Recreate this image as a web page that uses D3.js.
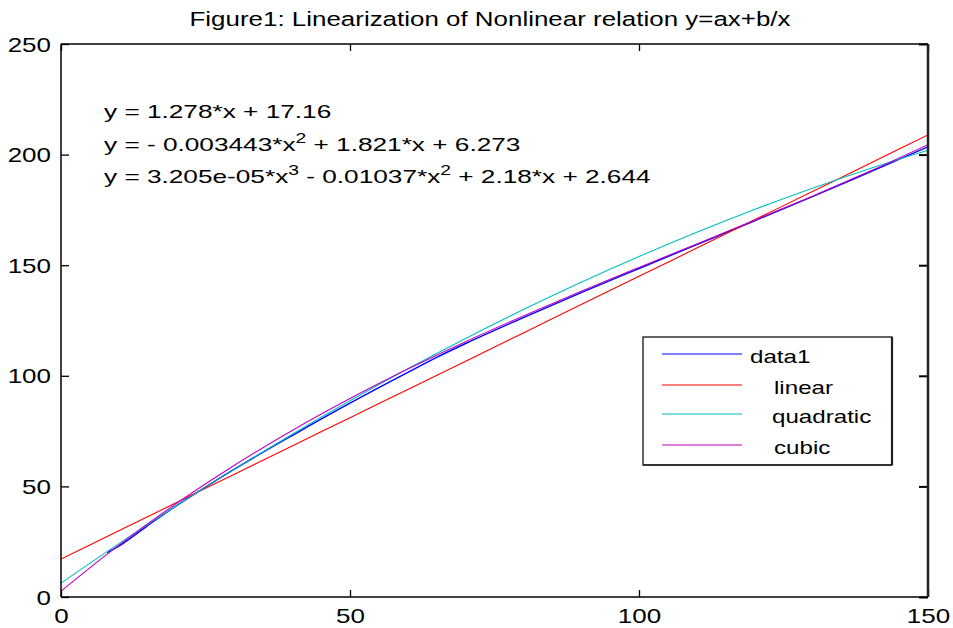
<!DOCTYPE html>
<html><head><meta charset="utf-8">
<script src="https://cdn.jsdelivr.net/npm/d3@7"></script>
<style>html,body{margin:0;padding:0;background:#fff;}svg{display:block;}</style>
</head><body>
<svg id="chart" width="953" height="628"></svg>
<script>
// ---- data ----
const titleText = "Figure1: Linearization of Nonlinear relation y=ax+b/x";
const xTicks = [0, 50, 100, 150];
const yTicks = [0, 50, 100, 150, 200, 250];
const seriesNames = ["data1", "linear", "quadratic", "cubic"];
const seriesColors = ["#0000ff", "#ff0000", "#00bfbf", "#bf00bf"];

const dataX = [8, 10, 15, 20, 25, 30, 40, 50, 60, 65, 70, 80, 90, 100, 110, 120, 130, 140, 150];
const dataY = [20.0, 23.0, 32.3, 41.3, 49.7, 57.8, 73.0, 87.6, 101.5, 108.3, 114.6, 126.3, 137.6, 148.5, 159.3, 170.1, 181.0, 192.2, 203.5];

const fitX = [0, 10, 20, 30, 40, 50, 60, 70, 80, 90, 100, 110, 120, 130, 140, 150];
const linearY = [17.16, 29.94, 42.72, 55.50, 68.28, 81.06, 93.84, 106.62, 119.40, 132.18, 144.96, 157.74, 170.52, 183.30, 196.08, 208.86];
const quadY = [6.27, 24.14, 41.32, 57.80, 73.60, 88.72, 103.14, 116.87, 129.92, 142.27, 153.94, 164.92, 175.21, 184.81, 193.73, 201.95];
const cubicY = [2.64, 23.44, 42.35, 59.58, 75.30, 89.72, 103.03, 115.43, 127.08, 138.21, 148.99, 159.62, 170.30, 181.20, 192.54, 204.49];

const equations = [
  [["y = 1.278*x + 17.16", null]],
  [["y = - 0.003443*x", "2"], [" + 1.821*x + 6.273", null]],
  [["y = 3.205e-05*x", "3"], [" - 0.01037*x", "2"], [" + 2.18*x + 2.644", null]]
];

// ---- layout ----
const L = 61, R = 928, T = 44, B = 597;
const FONT = "Liberation Sans, Arial, Helvetica, sans-serif";

const svg = d3.select("#chart");
const x = d3.scaleLinear().domain([0, 150]).range([L, R]);
const y = d3.scaleLinear().domain([0, 250]).range([B, T]);

function stretchedText(parent, px, py, size, sx, anchor) {
  return parent.append("text")
    .attr("transform", `translate(${px},${py}) scale(${sx},1)`)
    .attr("font-family", FONT)
    .attr("font-size", size)
    .attr("text-anchor", anchor || "start")
    .attr("fill", "#000");
}

svg.append("clipPath").attr("id", "clip")
  .append("rect").attr("x", L).attr("y", T).attr("width", R - L).attr("height", B - T);
const plot = svg.append("g").attr("clip-path", "url(#clip)");

const line = d3.line().curve(d3.curveMonotoneX);
function pts(xs, ys) { return xs.map((v, i) => [x(v), y(ys[i])]); }

const seriesPts = [pts(dataX, dataY), pts(fitX, linearY), pts(fitX, quadY), pts(fitX, cubicY)];
const widths = [1.4, 1.1, 1.1, 1.1];
seriesPts.forEach((p, i) => {
  plot.append("path").attr("d", line(p)).attr("fill", "none")
    .attr("stroke", seriesColors[i]).attr("stroke-width", widths[i]);
});

// axes (box with inward ticks)
const axB = d3.axisBottom(x).tickValues(xTicks).tickSize(-7).tickFormat(d3.format("d"));
const axT = d3.axisTop(x).tickValues(xTicks).tickSize(-7).tickFormat("");
const axL = d3.axisLeft(y).tickValues(yTicks).tickSize(-8).tickFormat(d3.format("d"));
const axR = d3.axisRight(y).tickValues(yTicks).tickSize(-9).tickFormat("");

const TSX = 1.3;
function styleAxis(g) {
  g.select(".domain").remove();
  g.selectAll(".tick line").attr("stroke", "#000").attr("stroke-width", 1.3);
  g.selectAll(".tick text").attr("font-family", FONT).attr("font-size", 20).attr("fill", "#000");
}
const gB = svg.append("g").attr("transform", `translate(0,${B})`).call(axB).call(styleAxis);
svg.append("g").attr("transform", `translate(0,${T})`).call(axT).call(styleAxis);
const gL = svg.append("g").attr("transform", `translate(${L},0)`).call(axL).call(styleAxis);
const gR = svg.append("g").attr("transform", `translate(${R},0)`).call(axR).call(styleAxis);
gR.selectAll(".tick line").attr("stroke-width", 2);

gB.selectAll(".tick text")
  .attr("transform", `scale(${TSX},1)`).attr("y", 26).attr("dy", 0);
gL.selectAll(".tick text")
  .attr("transform", `scale(${TSX},1)`).attr("x", -10 / TSX).attr("dy", "0.35em");

// frame
svg.append("line").attr("x1", L).attr("x2", R).attr("y1", T).attr("y2", T).attr("stroke", "#000").attr("stroke-width", 1.5);
svg.append("line").attr("x1", L).attr("x2", R).attr("y1", B).attr("y2", B).attr("stroke", "#000").attr("stroke-width", 1.5);
svg.append("line").attr("x1", L).attr("x2", L).attr("y1", T).attr("y2", B).attr("stroke", "#000").attr("stroke-width", 1.5);
svg.append("line").attr("x1", R).attr("x2", R).attr("y1", T).attr("y2", B).attr("stroke", "#222").attr("stroke-width", 2.5);

// title
stretchedText(svg, 490, 26, 19.5, 1.33, "middle").text(titleText);

// equations
const eqBase = [118, 151, 183];
equations.forEach((parts, i) => {
  const t = stretchedText(svg, 104, eqBase[i], 19, 1.38, "start");
  let raised = false;
  parts.forEach(([txt, sup]) => {
    t.append("tspan").attr("dy", raised ? 8 : 0).text(txt);
    raised = false;
    if (sup) {
      t.append("tspan").attr("dy", -8).attr("font-size", 14).text(sup);
      raised = true;
    }
  });
});

// legend
const lg = svg.append("g");
const LX0 = 643, LX1 = 892, LY0 = 337, LY1 = 465;
lg.append("rect").attr("x", LX0).attr("y", LY0).attr("width", LX1 - LX0).attr("height", LY1 - LY0)
  .attr("fill", "#fff").attr("stroke", "#000").attr("stroke-width", 1.2);
lg.append("line").attr("x1", LX1).attr("x2", LX1).attr("y1", LY0).attr("y2", LY1).attr("stroke", "#222").attr("stroke-width", 2.2);
lg.append("line").attr("x1", LX0).attr("x2", LX1).attr("y1", LY1).attr("y2", LY1).attr("stroke", "#222").attr("stroke-width", 1.6);
const entryY = [354, 385, 414, 445];
const textX = [750, 774, 772, 774];
seriesNames.forEach((name, i) => {
  lg.append("line").attr("x1", 662).attr("x2", 742).attr("y1", entryY[i]).attr("y2", entryY[i])
    .attr("stroke", seriesColors[i]).attr("stroke-width", 1.1);
  stretchedText(lg, textX[i], entryY[i] + 9, 17.5, 1.38, "start").text(name);
});
</script>
</body></html>
